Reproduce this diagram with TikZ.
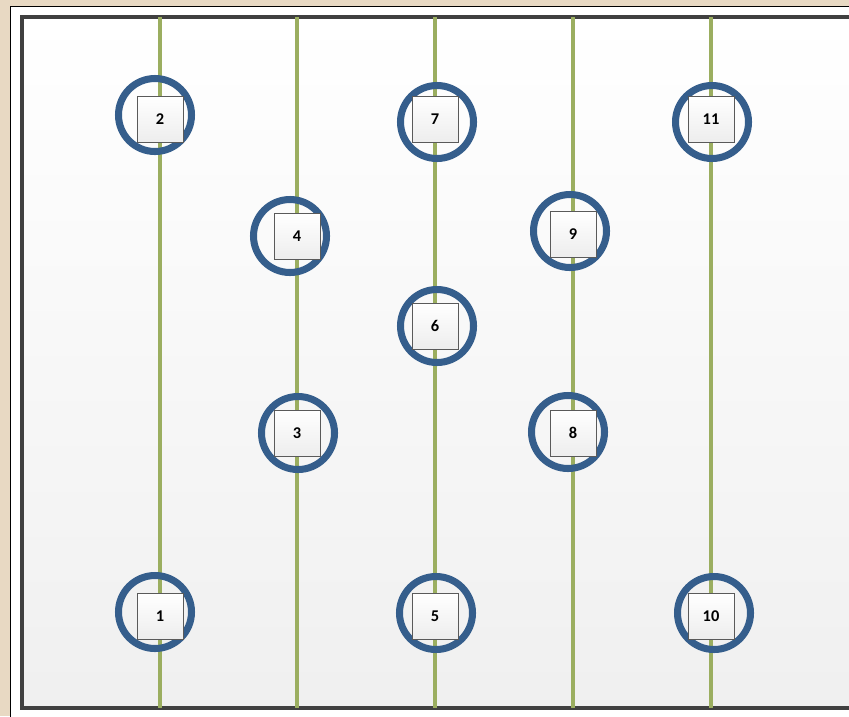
\documentclass[tikz,border=0pt]{standalone}
\usepackage{fontspec}
\setsansfont{Carlito}
\definecolor{paperbeige}{HTML}{E8D9C3}
\definecolor{framegray}{HTML}{404040}
\definecolor{trackgreen}{HTML}{9BAE60}
\definecolor{ringblue}{HTML}{355E8C}
\definecolor{tagedge}{HTML}{5A5A5A}

\tikzset{
  track/.style={trackgreen, line width=3.6pt},
  ring/.style={circle, draw=ringblue, line width=6pt, minimum size=2.19cm, inner sep=0pt},
  tag/.style={draw=tagedge, line width=0.8pt, top color=white, bottom color=black!7,
    minimum size=1.38cm, inner sep=0pt, font=\sffamily\bfseries\fontsize{14}{16}\selectfont}
}

\begin{document}
\begin{tikzpicture}[x=0.03cm, y=-0.03cm]
  \useasboundingbox (0,0) rectangle (849,716);
  % paper and frames
  \fill[paperbeige] (0,0) rectangle (849,716);
  \draw[fill=white, line width=0.8pt] (10,6) rectangle (880,740);
  \shade[top color=white, bottom color=black!6] (22,17) rectangle (880,708);
  \draw[framegray, line width=2.8pt] (880,17) -- (22,17) -- (22,708) -- (880,708);
  % tracks
  \foreach \x in {160,297,435,573,711}
    \draw[track] (\x,17) -- (\x,708);
  % stations
  \foreach \id/\sx/\sy/\rx/\ry in {1/160/616/155/612, 2/160/119/155/115, 3/297/433/298/433,
      4/297/236/290/236, 5/435/616/436/613, 6/435/326/437/326, 7/435/119/437/122,
      8/573/433/568/432, 9/573/234/570/231, 10/711/616/714/613, 11/711/119/712/122}
  {
    \node[ring] (c\id) at (\rx,\ry) {};
    \node[tag] (n\id) at (\sx,\sy) {\id};
  }
\end{tikzpicture}
\end{document}
